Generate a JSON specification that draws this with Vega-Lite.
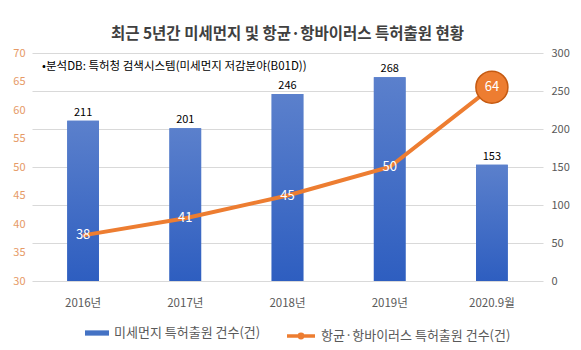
{
  "$schema": "https://vega.github.io/schema/vega-lite/v6.json",
  "width": 511,
  "height": 228,
  "autosize": {"type": "none"},
  "padding": {"left": 32, "top": 53, "right": 38, "bottom": 69},
  "background": "white",
  "config": {
    "font": "Noto Sans CJK KR",
    "view": {"stroke": null},
    "axis": {"labelFont": "Noto Sans CJK KR", "labelFontSize": 11, "labelColor": "#595959", "ticks": false, "domain": false, "title": null}
  },
  "title": {
    "text": "최근 5년간 미세먼지 및 항균·항바이러스 특허출원 현황",
    "fontSize": 15.5,
    "fontWeight": "bold",
    "color": "#404040",
    "anchor": "middle",
    "offset": 5,
    "font": "Noto Sans CJK KR"
  },
  "data": {
    "values": [
      {"year": "2016년", "dust": 211, "anti": 38},
      {"year": "2017년", "dust": 201, "anti": 41},
      {"year": "2018년", "dust": 246, "anti": 45},
      {"year": "2019년", "dust": 268, "anti": 50},
      {"year": "2020.9월", "dust": 153, "anti": 64}
    ]
  },
  "encoding": {
    "x": {
      "field": "year", "type": "nominal", "sort": null,
      "scale": {"paddingInner": 0, "paddingOuter": 0},
      "axis": {"labelAngle": 0, "labelPadding": 16, "labelFontSize": 11.5, "grid": false}
    }
  },
  "layer": [
    {
      "encoding": {
        "y": {
          "field": "dust", "type": "quantitative",
          "scale": {"domain": [0, 300], "nice": false},
          "axis": {"orient": "right", "values": [0, 50, 100, 150, 200, 250, 300], "grid": true, "gridColor": "#D9D9D9", "labelPadding": 8}
        }
      },
      "layer": [
        {
          "mark": {"type": "bar", "width": {"band": 0.31}},
          "encoding": {
            "fill": {
              "datum": "미세먼지 특허출원 건수(건)",
              "scale": {"range": ["#4472C4"]},
              "legend": {"orient": "none", "legendX": 52, "legendY": 267, "title": null, "symbolType": "M-1,-0.22H1V0.22H-1Z", "symbolSize": 576, "labelFontSize": 13, "labelColor": "#595959", "labelLimit": 300, "labelFont": "Noto Sans CJK KR"}
            }
          }
        },
        {
          "mark": {
            "type": "bar", "width": {"band": 0.31},
            "color": {"gradient": "linear", "x1": 0, "y1": 0, "x2": 0, "y2": 1,
              "stops": [{"offset": 0, "color": "#5B80CC"}, {"offset": 1, "color": "#2E5EC0"}]}
          }
        },
        {
          "mark": {"type": "text", "baseline": "bottom", "dy": -3, "fontSize": 11, "color": "#000000"},
          "encoding": {"text": {"field": "dust", "type": "quantitative"}}
        },
        {
          "data": {"values": [{"note": "•분석DB: 특허청 검색시스템(미세먼지 저감분야(B01D))", "year": "2016년", "pos": 281}]},
          "mark": {"type": "text", "align": "left", "baseline": "middle", "fontSize": 11.5, "fontWeight": 400, "color": "#000000", "dx": -41},
          "encoding": {
            "y": {"field": "pos", "type": "quantitative"},
            "text": {"field": "note", "type": "nominal"}
          }
        }
      ]
    },
    {
      "encoding": {
        "y": {
          "field": "anti", "type": "quantitative",
          "scale": {"domain": [30, 70], "nice": false},
          "axis": {"orient": "left", "values": [30, 35, 40, 45, 50, 55, 60, 65, 70], "grid": false, "labelColor": "#E69A66", "labelPadding": 7}
        }
      },
      "layer": [
        {
          "mark": {"type": "line", "strokeWidth": 4},
          "encoding": {
            "stroke": {
              "datum": "항균·항바이러스 특허출원 건수(건)",
              "scale": {"range": ["#ED7D31"]},
              "legend": {"orient": "none", "legendX": 253, "legendY": 267, "title": null, "symbolType": "M-1,0H1M-0.12,0A0.12,0.12 0 1,0 0.12,0A0.12,0.12 0 1,0 -0.12,0", "symbolStrokeWidth": 3.5, "symbolSize": 784, "labelFontSize": 13, "labelColor": "#595959", "labelLimit": 300, "labelFont": "Noto Sans CJK KR"}
            }
          }
        },
        {
          "transform": [{"filter": "datum.year == '2020.9월'"}],
          "mark": {"type": "point", "shape": "circle", "filled": true, "size": 1024, "color": "#ED7D31", "stroke": "#C55A11", "strokeWidth": 1.5, "opacity": 1}
        },
        {
          "mark": {"type": "text", "fontSize": 13, "color": "white", "baseline": "middle"},
          "encoding": {"text": {"field": "anti", "type": "quantitative"}}
        }
      ]
    }
  ],
  "resolve": {"scale": {"y": "independent", "fill": "independent", "stroke": "independent"}, "legend": {"fill": "independent", "stroke": "independent"}}
}
